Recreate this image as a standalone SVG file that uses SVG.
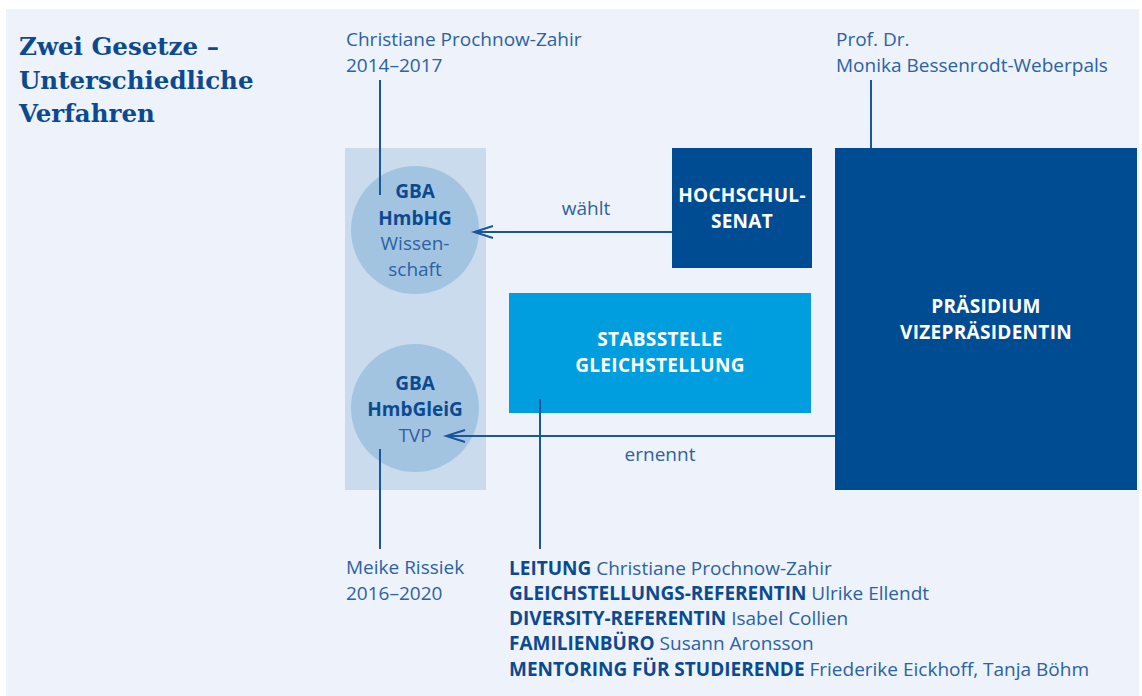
<svg xmlns="http://www.w3.org/2000/svg" width="1142" height="696" viewBox="0 0 1142 696">
<defs>
<style>
.t{font-family:"Open Sans","Noto Sans",sans-serif;font-size:19px;fill:#2B62A5}
.b{font-family:"Open Sans","Noto Sans",sans-serif;font-size:19px;font-weight:bold;fill:#0C4A90}
.w{font-family:"Open Sans","Noto Sans",sans-serif;font-size:19px;font-weight:bold;fill:#FFFFFF;letter-spacing:0.3px}
.title{font-family:"DejaVu Serif","Liberation Serif",serif;font-size:24.5px;font-weight:bold;fill:#0C4A90}
.ln{stroke:#19569C;stroke-width:2;fill:none}
</style>
<marker id="ah" markerWidth="24" markerHeight="16" viewBox="0 0 24 16" refX="21" refY="8" orient="auto" markerUnits="userSpaceOnUse">
<path d="M2,2 L21,8 L2,14" fill="none" stroke="#19569C" stroke-width="2"/>
</marker>
</defs>
<rect x="0" y="0" width="1142" height="696" fill="#FFFFFF"/>
<rect x="6" y="9" width="1133" height="687" fill="#EEF2FA"/>
<g id="title">
<text class="title" x="19" y="55">Zwei Gesetze –</text>
<text class="title" x="19" y="89">Unterschiedliche</text>
<text class="title" x="19" y="122">Verfahren</text>
</g>
<g id="column"><rect x="345" y="148" width="141" height="342" fill="#C9DBED"/></g>
<g id="gba-hmbhg">
<circle cx="415" cy="230" r="64" fill="#A3C4E1"/>
<text class="b" x="415" y="198" text-anchor="middle">GBA</text>
<text class="b" x="415" y="225" text-anchor="middle">HmbHG</text>
<text class="t" x="415" y="250" text-anchor="middle">Wissen-</text>
<text class="t" x="415" y="276" text-anchor="middle">schaft</text>
</g>
<g id="gba-hmbgleig">
<circle cx="415" cy="408" r="64" fill="#A3C4E1"/>
<text class="b" x="415" y="390" text-anchor="middle">GBA</text>
<text class="b" x="415" y="416" text-anchor="middle">HmbGleiG</text>
<text class="t" x="415" y="442" text-anchor="middle">TVP</text>
</g>
<g id="hochschulsenat">
<rect x="672" y="148" width="140" height="120" fill="#004C93"/>
<text class="w" x="742" y="202" text-anchor="middle">HOCHSCHUL-</text>
<text class="w" x="742" y="228" text-anchor="middle">SENAT</text>
</g>
<g id="stabsstelle">
<rect x="509" y="293" width="302" height="120" fill="#009EDF"/>
<text class="w" x="660" y="346" text-anchor="middle">STABSSTELLE</text>
<text class="w" x="660" y="372" text-anchor="middle">GLEICHSTELLUNG</text>
</g>
<g id="praesidium">
<rect x="835" y="148" width="302" height="342" fill="#004C93"/>
<text class="w" x="986" y="313" text-anchor="middle">PRÄSIDIUM</text>
<text class="w" x="986" y="339" text-anchor="middle">VIZEPRÄSIDENTIN</text>
</g>
<g id="label-top-left">
<text class="t" x="346" y="46">Christiane Prochnow-Zahir</text>
<text class="t" x="346" y="72">2014–2017</text>
</g>
<g id="label-top-right">
<text class="t" x="836" y="46">Prof. Dr.</text>
<text class="t" x="836" y="72">Monika Bessenrodt-Weberpals</text>
</g>
<g id="label-bottom-left">
<text class="t" x="346" y="574">Meike Rissiek</text>
<text class="t" x="346" y="600">2016–2020</text>
</g>
<g id="staff-list">
<text x="509" y="575"><tspan class="b">LEITUNG</tspan><tspan class="t"> Christiane Prochnow-Zahir</tspan></text>
<text x="509" y="600"><tspan class="b">GLEICHSTELLUNGS-REFERENTIN</tspan><tspan class="t"> Ulrike Ellendt</tspan></text>
<text x="509" y="625"><tspan class="b">DIVERSITY-REFERENTIN</tspan><tspan class="t"> Isabel Collien</tspan></text>
<text x="509" y="650"><tspan class="b">FAMILIENBÜRO</tspan><tspan class="t"> Susann Aronsson</tspan></text>
<text x="509" y="676"><tspan class="b">MENTORING FÜR STUDIERENDE</tspan><tspan class="t"> Friederike Eickhoff, Tanja Böhm</tspan></text>
</g>
<g id="connectors">
<line class="ln" x1="380" y1="80" x2="380" y2="195"/>
<line class="ln" x1="380" y1="449" x2="380" y2="549"/>
<line class="ln" x1="871" y1="80" x2="871" y2="148"/>
<line class="ln" x1="540" y1="399" x2="540" y2="549"/>
<line class="ln" x1="672" y1="232" x2="474" y2="232" marker-end="url(#ah)"/>
<line class="ln" x1="835" y1="436" x2="446" y2="436" marker-end="url(#ah)"/>
<text class="t" x="586" y="215" text-anchor="middle">wählt</text>
<text class="t" x="660" y="461" text-anchor="middle">ernennt</text>
</g>
</svg>
